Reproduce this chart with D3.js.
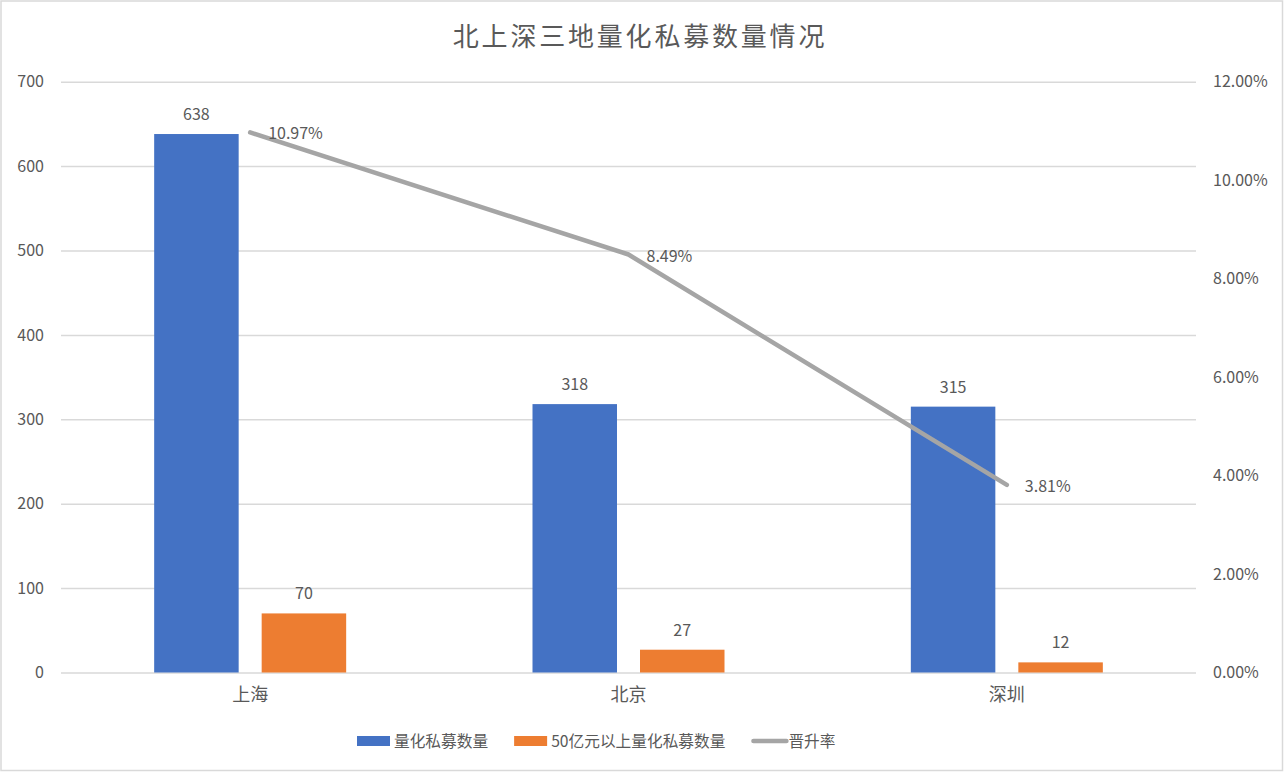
<!DOCTYPE html>
<html lang="zh">
  <head>
    <meta charset="utf-8">
    <title>北上深三地量化私募数量情况</title>
    <script src="https://d3js.org/d3.v7.js"></script>
    <style>
      body { margin: 0; background: #fff; }
      text { font-family: "Noto Sans CJK SC", "Noto Sans", sans-serif; fill: #595959; }
    </style>
  </head>
  <body>
    <script>

  // chart size
  var w = 1284;
  var h = 772;

  // data
  var categories = ["上海", "北京", "深圳"];
  var seriesNames = ["量化私募数量", "50亿元以上量化私募数量", "晋升率"];
  var quantCount = [638, 318, 315];
  var bigQuantCount = [70, 27, 12];
  var promoteRate = [0.1097, 0.0849, 0.0381];
  var leftTicks = [0, 100, 200, 300, 400, 500, 600, 700];
  var rightTicks = [0, 0.02, 0.04, 0.06, 0.08, 0.10, 0.12];

  var colors = ["#4472C4", "#ED7D31", "#A5A5A5"];

  // plot area
  var plotLeft = 61, plotRight = 1196, plotTop = 81.7, plotBottom = 672.5;

  var svg = d3.select("body")
    .append("svg")
    .attr("width", w)
    .attr("height", h);

  // outer frame
  svg.append("rect")
    .attr("x", 1).attr("y", 1)
    .attr("width", w - 2.5).attr("height", h - 2.5)
    .attr("fill", "#fff")
    .attr("stroke", "#D9D9D9")
    .attr("stroke-width", 1.5);

  // scales
  var xScale = d3.scaleBand()
    .domain(categories)
    .range([plotLeft, plotRight]);

  var groupW = 192;
  var xInner = d3.scaleBand()
    .domain([0, 1])
    .range([0, groupW])
    .paddingInner(0.214);
  var groupOffset = (xScale.bandwidth() - groupW) / 2;

  var yLeft = d3.scaleLinear()
    .domain([0, 700])
    .range([plotBottom, plotTop]);

  var yRight = d3.scaleLinear()
    .domain([0, 0.12])
    .range([plotBottom, plotTop]);

  // gridlines
  svg.append("g")
    .attr("transform", "translate(" + plotLeft + ",0)")
    .call(d3.axisLeft(yLeft).tickValues(leftTicks).tickSize(-(plotRight - plotLeft)).tickFormat(""))
    .call(g => g.select(".domain").remove())
    .call(g => g.selectAll("line").attr("stroke", "#D9D9D9").attr("stroke-width", 1.5));

  // left axis labels
  svg.append("g")
    .attr("transform", "translate(44,0)")
    .call(d3.axisLeft(yLeft).tickValues(leftTicks).tickSize(0).tickPadding(0))
    .call(g => g.select(".domain").remove())
    .call(g => g.selectAll("text")
      .attr("font-size", 16)
      .attr("font-family", null)
      .attr("fill", "#595959"));

  // right axis labels
  svg.append("g")
    .attr("transform", "translate(1213,0)")
    .call(d3.axisRight(yRight).tickValues(rightTicks).tickSize(0).tickPadding(0).tickFormat(d3.format(".2%")))
    .call(g => g.select(".domain").remove())
    .call(g => g.selectAll("text")
      .attr("font-size", 16)
      .attr("font-family", null)
      .attr("fill", "#595959"));

  // category labels
  svg.append("g")
    .attr("transform", "translate(0," + plotBottom + ")")
    .call(d3.axisBottom(xScale).tickSize(0).tickPadding(16))
    .call(g => g.select(".domain").remove())
    .call(g => g.selectAll("text")
      .attr("font-size", 18)
      .attr("font-family", null)
      .attr("fill", "#595959"));

  // bars
  var barSeries = [quantCount, bigQuantCount];
  barSeries.forEach(function(values, s) {
    var g = svg.append("g").attr("fill", colors[s]);
    g.selectAll("rect")
      .data(values)
      .enter()
      .append("rect")
      .attr("x", (d, i) => xScale(categories[i]) + groupOffset + xInner(s))
      .attr("y", d => yLeft(d))
      .attr("width", xInner.bandwidth())
      .attr("height", d => yLeft(0) - yLeft(d));

    svg.append("g").selectAll("text")
      .data(values)
      .enter()
      .append("text")
      .attr("x", (d, i) => xScale(categories[i]) + groupOffset + xInner(s) + xInner.bandwidth() / 2)
      .attr("y", d => yLeft(d) - 14)
      .attr("text-anchor", "middle")
      .attr("font-size", 16)
      .text(d => d);
  });

  // rate line
  var lineGen = d3.line()
    .x((d, i) => xScale(categories[i]) + xScale.bandwidth() / 2)
    .y(d => yRight(d));

  svg.append("path")
    .datum(promoteRate)
    .attr("d", lineGen)
    .attr("fill", "none")
    .attr("stroke", colors[2])
    .attr("stroke-width", 4.5)
    .attr("stroke-linecap", "round")
    .attr("stroke-linejoin", "round");

  svg.append("g").selectAll("text")
    .data(promoteRate)
    .enter()
    .append("text")
    .attr("x", (d, i) => xScale(categories[i]) + xScale.bandwidth() / 2 + 18)
    .attr("y", d => yRight(d) + 7)
    .attr("font-size", 16)
    .text(d => d3.format(".2%")(d));

  // title
  svg.append("text")
    .attr("x", 640)
    .attr("y", 46)
    .attr("text-anchor", "middle")
    .attr("font-size", 26)
    .attr("letter-spacing", 2.8)
    .text("北上深三地量化私募数量情况");

  // legend
  var lx = 357, ly = 741;
  seriesNames.forEach(function(name, s) {
    if (s < 2) {
      svg.append("rect")
        .attr("x", lx).attr("y", ly - 5)
        .attr("width", 33).attr("height", 10)
        .attr("fill", colors[s]);
    } else {
      svg.append("line")
        .attr("x1", lx + 2).attr("x2", lx + 35)
        .attr("y1", ly).attr("y2", ly)
        .attr("stroke", colors[s])
        .attr("stroke-width", 4.5)
        .attr("stroke-linecap", "round");
    }
    var t = svg.append("text")
      .attr("x", lx + 37)
      .attr("y", ly + 6)
      .attr("font-size", 15.7)
      .text(name);
    lx += 37 + t.node().getComputedTextLength() + 26;
  });

    </script>
  </body>
</html>
